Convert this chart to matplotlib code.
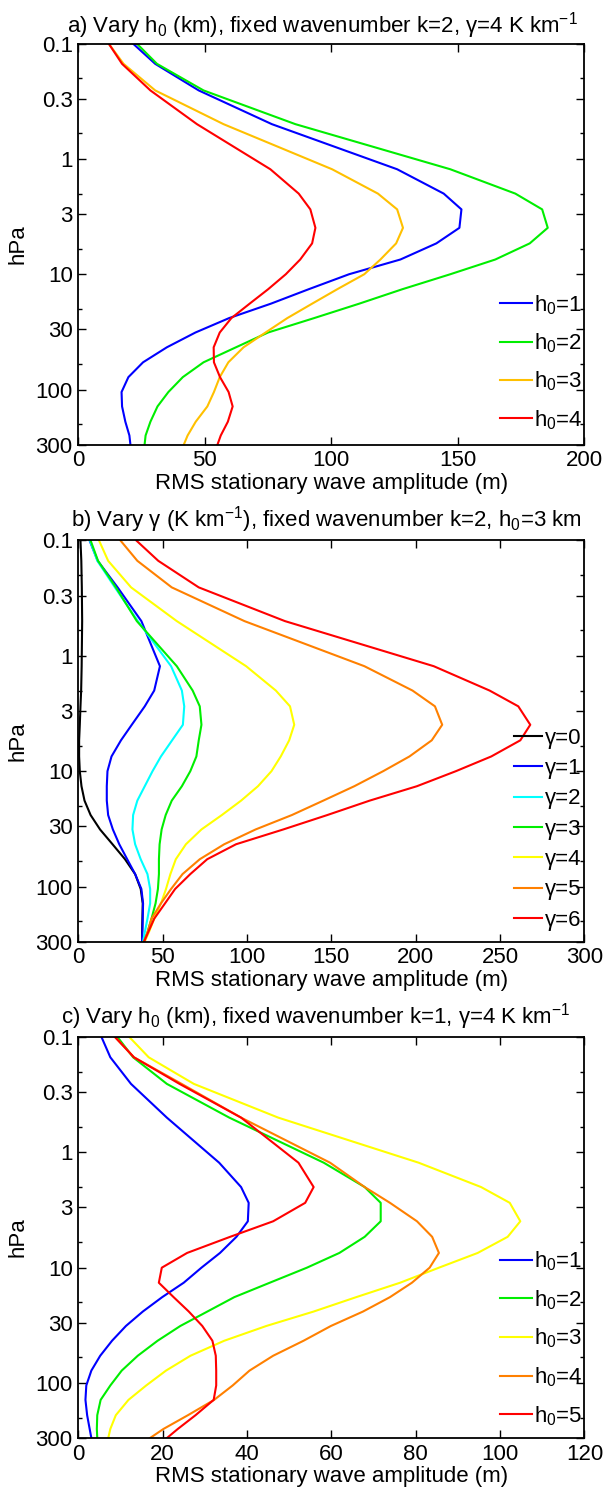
import matplotlib
matplotlib.use('Agg')
import matplotlib.pyplot as plt
from matplotlib.ticker import FixedLocator, NullFormatter

plt.rcParams['font.family'] = ['Liberation Sans', 'DejaVu Sans']
plt.rcParams['mathtext.fontset'] = 'custom'
plt.rcParams['mathtext.rm'] = 'Liberation Sans'
plt.rcParams['mathtext.it'] = 'Liberation Sans:italic'
plt.rcParams['mathtext.bf'] = 'Liberation Sans:bold'
plt.rcParams['font.size'] = 16

# pressure levels (hPa) of the model output
pres = [0.1, 0.15, 0.255, 0.5, 1.23, 2.0, 2.74, 3.96, 5.4, 7.45, 10, 13.5, 18,
        24, 32, 43, 58, 78, 105, 140, 190, 250, 300]

# a) vary h0, k=2, gamma=4
a_h1 = [21.6, 30.4, 47.6, 76.5, 126, 144.4, 151.4, 150.6, 141.5, 127.3, 107, 91, 76.1,
        59.6, 46.3, 35, 25.6, 19.8, 17.1, 17.3, 18.6, 20.2, 20.6]
a_h2 = [23.1, 31.1, 49.5, 85.8, 147, 172.7, 183.3, 185.5, 178.4, 164.8, 147, 128, 111,
        93.2, 75, 62.3, 49.5, 41.3, 35.6, 31.3, 28.5, 26.6, 26.2]
a_h3 = [12.0, 17.9, 30.4, 57.4, 100.3, 118.4, 126, 128.3, 125.6, 119.4, 113, 102.3, 92.4,
        82.6, 74, 65.3, 59.3, 55.9, 53.6, 51, 46.4, 43.2, 41.7]
a_h4 = [12.0, 17.3, 28.5, 46.9, 75.9, 87.1, 91.7, 93.7, 92.4, 87.7, 82, 75, 67.7,
        60.5, 55.9, 53.5, 53.6, 56, 59.4, 61, 59.1, 56.3, 55]

# b) vary gamma, k=2, h0=3
b_g0 = [1.3, 1.8, 2.1, 2.3, 2.0, 1.7, 1.3, 0.9, 0.5, 0.5, 0.9, 1.9, 3.7,
        7.3, 12.9, 20.3, 27.7, 33.7, 37.0, 38.2, 38.0, 37.8, 37.8]
b_g1 = [6.7, 11.5, 23.3, 37.4, 48.4, 45.0, 39.4, 31.7, 25.3, 19.7, 17.3, 16.9, 16.9,
        17.7, 20.5, 24.3, 29.0, 33.7, 37.4, 38.4, 38.2, 38.0, 37.8]
b_g2 = [6.9, 11.3, 21.7, 35.3, 55.0, 61.4, 62.8, 62.0, 55.6, 49.0, 44.0, 39.4, 35.0,
        32.5, 32.1, 33.7, 37.0, 41.0, 42.6, 42.6, 41.0, 39.4, 38.4]
b_g3 = [7.3, 11.7, 22.3, 34.7, 58.4, 67.8, 72.0, 73.0, 71.4, 70.0, 66.4, 61.4, 55.4,
        51.8, 49.4, 48.2, 47.8, 47.8, 47.2, 45.8, 43.4, 41.0, 39.0]
b_g4 = [12.3, 17.7, 31.3, 58.4, 99.5, 117.1, 125.5, 128.0, 125.0, 120.0, 114.5, 106.5, 96.5,
        85.1, 73.0, 63.8, 57.8, 54.6, 52.0, 49.0, 45.0, 41.8, 39.4]
b_g5 = [25.0, 35.0, 55.4, 98.5, 169.6, 198.1, 211.4, 215.7, 209.5, 196.3, 180.7, 163.6, 145.2,
        126.6, 105.1, 86.5, 72.0, 61.8, 55.0, 49.0, 43.4, 41.0, 39.0]
b_g6 = [34.4, 47.4, 71.4, 122.5, 210.7, 243.8, 260.8, 267.9, 262.0, 244.8, 223.8, 200.7, 172.7,
        147.6, 121.5, 93.5, 76.4, 66.4, 57.4, 51.4, 45.0, 41.4, 39.0]

# c) vary h0, k=1, gamma=4
c_h1 = [5.5, 7.6, 12.5, 21.0, 33.4, 38.6, 40.4, 40.2, 37.5, 33.6, 29.2, 25.0, 19.9,
        15.3, 11.3, 8.0, 5.2, 3.1, 1.9, 1.7, 2.1, 2.7, 3.1]
c_h2 = [9.3, 13.0, 21.0, 35.8, 58.2, 67.9, 71.7, 71.7, 67.9, 61.9, 54.2, 45.4, 37.0,
        30.6, 24.2, 18.8, 14.1, 10.3, 7.6, 5.3, 4.5, 4.4, 4.5]
c_h3 = [12.1, 16.7, 27.4, 47.4, 80.7, 95.5, 102.3, 104.8, 101.8, 94.7, 85.5, 76.3, 65.9,
        55.8, 44.6, 34.6, 26.6, 20.8, 16.1, 11.9, 8.9, 7.6, 7.1]
c_h4 = [8.7, 13.2, 24.5, 38.6, 59.7, 67.9, 73.9, 80.3, 83.9, 85.5, 83.3, 79.1, 73.9,
        67.5, 59.9, 53.4, 46.2, 40.6, 36.6, 32.2, 26.0, 20.2, 17.0]
c_h5 = [8.7, 13.2, 24.0, 38.6, 52.2, 55.8, 53.8, 46.2, 36.0, 25.8, 19.8, 19.1, 22.6,
        26.2, 29.4, 31.8, 32.6, 32.7, 32.7, 32.1, 27.8, 23.6, 21.0]

h_labels = [r'h$_0$=%d' % i for i in range(1, 6)]
g_labels = ['\u03b3=%d' % i for i in range(7)]

yticks = [0.1, 0.3, 1, 3, 10, 30, 100, 300]
yminor = [0.2, 0.6, 2, 6, 20, 60, 200]

fig = plt.figure(figsize=(6.04, 14.91), dpi=100)
left, width, height = 0.1296, 0.838, 0.2690
ax_a = fig.add_axes([left, 0.7018, width, height])
ax_b = fig.add_axes([left, 0.3685, width, height])
ax_c = fig.add_axes([left, 0.0355, width, height])


def setup(ax, xmax, xstep, title, tx, tpad):
    ax.set_yscale('log')
    ax.set_ylim(300, 0.1)
    ax.set_xlim(0, xmax)
    ax.set_xticks(range(0, xmax + 1, xstep))
    ax.yaxis.set_major_locator(FixedLocator(yticks))
    ax.set_yticklabels(['0.1', '0.3', '1', '3', '10', '30', '100', '300'])
    ax.yaxis.set_minor_locator(FixedLocator(yminor))
    ax.yaxis.set_minor_formatter(NullFormatter())
    ax.tick_params(which='both', direction='in', top=True, right=True, width=1.0)
    ax.tick_params(which='major', length=6, pad=4)
    ax.tick_params(which='minor', length=3)
    for s in ax.spines.values():
        s.set_linewidth(1.3)
    ax.set_xlabel('RMS stationary wave amplitude (m)', labelpad=1)
    ax.set_ylabel('hPa', labelpad=5)
    ax.set_title(title, fontsize=16, pad=tpad, x=tx)


lw = 1.5
for vals, col, lab in zip([a_h1, a_h2, a_h3, a_h4],
                          ['#0000ff', '#00ee00', '#ffc000', '#ff0000'], h_labels):
    ax_a.plot(vals, pres, color=col, lw=lw, label=lab)
setup(ax_a, 200, 50, 'a) Vary h$_0$ (km), fixed wavenumber k=2, \u03b3=4 K km$^{-1}$', 0.482, 8)
ax_a.legend(loc='center left', bbox_to_anchor=(0.811, 0.205), frameon=False,
            borderpad=0, handlelength=1.45, handletextpad=0.1, labelspacing=0.66)

for vals, col, lab in zip([b_g0, b_g1, b_g2, b_g3, b_g4, b_g5, b_g6],
                          ['#000000', '#0000ff', '#00ffff', '#00ee00', '#ffff00',
                           '#ff8000', '#ff0000'], g_labels):
    ax_b.plot(vals, pres, color=col, lw=lw, label=lab)
setup(ax_b, 300, 50, 'b) Vary \u03b3 (K km$^{-1}$), fixed wavenumber k=2, h$_0$=3 km', 0.491, 10)
ax_b.legend(loc='center left', bbox_to_anchor=(0.838, 0.280), frameon=False,
            borderpad=0, handlelength=1.3, handletextpad=0.1, labelspacing=0.42)

for vals, col, lab in zip([c_h1, c_h2, c_h3, c_h4, c_h5],
                          ['#0000ff', '#00ee00', '#ffff00', '#ff8000', '#ff0000'], h_labels):
    ax_c.plot(vals, pres, color=col, lw=lw, label=lab)
setup(ax_c, 120, 20, 'c) Vary h$_0$ (km), fixed wavenumber k=1, \u03b3=4 K km$^{-1}$', 0.47, 10)
ax_c.legend(loc='center left', bbox_to_anchor=(0.811, 0.248), frameon=False,
            borderpad=0, handlelength=1.45, handletextpad=0.1, labelspacing=0.68)

fig.savefig('out.png', dpi=100)
